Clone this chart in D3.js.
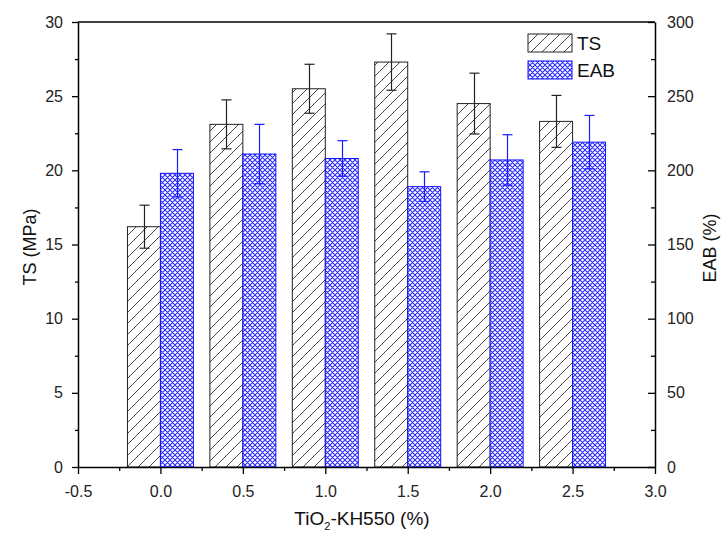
<!DOCTYPE html>
<html>
<head>
<meta charset="utf-8">
<script src="https://d3js.org/d3.v7.min.js"></script>
<style>
  body { margin: 0; background: #fff; }
  text { font-family: "Liberation Sans", Arial, sans-serif; }
</style>
</head>
<body>
<script>
var categories = [0.0, 0.5, 1.0, 1.5, 2.0, 2.5];
var tsValues  = [16.2, 23.1, 25.5, 27.3, 24.5, 23.3];
var tsErr     = [1.45, 1.65, 1.65, 1.9, 2.05, 1.75];
var eabValues = [198, 211, 208, 189, 207, 219];
var eabErr    = [16, 20, 12, 10, 17, 18];
var xTicks = [-0.5, 0.0, 0.5, 1.0, 1.5, 2.0, 2.5, 3.0];

var width = 721, height = 539;
var pLeft = 78, pRight = 655, pTop = 22, pBottom = 467;
var barW = 0.2;

var svg = d3.select("body").append("svg")
  .attr("width", width).attr("height", height);

var defs = svg.append("defs");
var hatch = defs.append("pattern").attr("id", "hatch")
  .attr("patternUnits", "userSpaceOnUse").attr("width", 11).attr("height", 11);
hatch.append("rect").attr("width", 11).attr("height", 11).attr("fill", "#fff");
hatch.append("path").attr("d", "M-1,12 L12,-1 M-6,6 L6,-6 M5,17 L17,5")
  .attr("stroke", "#333").attr("stroke-width", 0.9);

var cross = defs.append("pattern").attr("id", "cross")
  .attr("patternUnits", "userSpaceOnUse").attr("width", 5).attr("height", 5);
cross.append("rect").attr("width", 5).attr("height", 5).attr("fill", "#fff");
cross.append("path").attr("d", "M0,0 L5,5 M5,0 L0,5 M-1,4 L1,6 M4,-1 L6,1 M4,6 L6,4 M-1,1 L1,-1")
  .attr("stroke", "#2a2aff").attr("stroke-width", 1.1);

var x = d3.scaleLinear().domain([-0.5, 3.0]).range([pLeft, pRight]);
var yL = d3.scaleLinear().domain([0, 30]).range([pBottom, pTop]);
var yR = d3.scaleLinear().domain([0, 300]).range([pBottom, pTop]);

// bars
svg.selectAll(".ts").data(categories).enter().append("rect")
  .attr("x", function(d) { return x(d - barW); })
  .attr("width", function(d) { return x(d) - x(d - barW); })
  .attr("y", function(d, i) { return yL(tsValues[i]); })
  .attr("height", function(d, i) { return pBottom - yL(tsValues[i]); })
  .attr("fill", "url(#hatch)").attr("stroke", "#222").attr("stroke-width", 1);

svg.selectAll(".eab").data(categories).enter().append("rect")
  .attr("x", function(d) { return x(d); })
  .attr("width", function(d) { return x(d + barW) - x(d); })
  .attr("y", function(d, i) { return yR(eabValues[i]); })
  .attr("height", function(d, i) { return pBottom - yR(eabValues[i]); })
  .attr("fill", "url(#cross)").attr("stroke", "#1010ff").attr("stroke-width", 1);

// error bars
function errBars(vals, errs, scale, offset, color) {
  var g = svg.append("g").attr("stroke", color).attr("stroke-width", 1.2).attr("fill", "none");
  categories.forEach(function(c, i) {
    var cx = Math.round(x(c + offset)) + 0.5;
    var y1 = scale(vals[i] + errs[i]), y2 = scale(vals[i] - errs[i]);
    g.append("line").attr("x1", cx).attr("x2", cx).attr("y1", y1).attr("y2", y2);
    g.append("line").attr("x1", cx - 5).attr("x2", cx + 5).attr("y1", y1).attr("y2", y1);
    g.append("line").attr("x1", cx - 5).attr("x2", cx + 5).attr("y1", y2).attr("y2", y2);
  });
}
errBars(tsValues, tsErr, yL, -barW / 2, "#222");
errBars(eabValues, eabErr, yR, barW / 2, "#1a1aff");

// frame top
svg.append("line").attr("x1", pLeft).attr("x2", pRight).attr("y1", pTop).attr("y2", pTop)
  .attr("stroke", "#000").attr("stroke-width", 1.5);

// axes
var fs = "16px";
svg.append("g").attr("transform", "translate(0," + pBottom + ")")
  .call(d3.axisBottom(x).tickValues(xTicks).tickFormat(function(d) { return d3.format(".1f")(d).replace("\u2212", "-"); })
    .tickSize(7).tickPadding(12).tickSizeOuter(0));
svg.append("g").attr("transform", "translate(0," + pBottom + ")")
  .call(d3.axisBottom(x).tickValues(d3.range(-0.25, 3.0, 0.5)).tickFormat("").tickSize(4).tickSizeOuter(0))
  .select(".domain").remove();

svg.append("g").attr("transform", "translate(" + pLeft + ",0)")
  .call(d3.axisLeft(yL).tickValues(d3.range(0, 31, 5)).tickSize(6).tickPadding(9).tickSizeOuter(0));
svg.append("g").attr("transform", "translate(" + pLeft + ",0)")
  .call(d3.axisLeft(yL).tickValues(d3.range(2.5, 30, 5)).tickFormat("").tickSize(3).tickSizeOuter(0))
  .select(".domain").remove();

svg.append("g").attr("transform", "translate(" + pRight + ",0)")
  .call(d3.axisRight(yR).tickValues(d3.range(0, 301, 50)).tickSize(-7).tickPadding(12).tickSizeOuter(0));
svg.append("g").attr("transform", "translate(" + pRight + ",0)")
  .call(d3.axisRight(yR).tickValues(d3.range(25, 300, 50)).tickFormat("").tickSize(-4).tickSizeOuter(0))
  .select(".domain").remove();

svg.selectAll(".domain").attr("stroke-width", 1.5);
svg.selectAll(".tick line").attr("stroke-width", 1.3);
svg.selectAll(".tick text").attr("font-size", fs).attr("font-family", "Liberation Sans, Arial, sans-serif").attr("fill", "#222");

// axis titles
svg.append("text").attr("transform", "translate(36,247) rotate(-90)")
  .attr("text-anchor", "middle").attr("font-size", "18px").attr("fill", "#111").text("TS (MPa)");
svg.append("text").attr("transform", "translate(716,248) rotate(-90)")
  .attr("text-anchor", "middle").attr("font-size", "18px").attr("fill", "#111").text("EAB (%)");
var xt = svg.append("text").attr("x", 362).attr("y", 525)
  .attr("text-anchor", "middle").attr("font-size", "19px").attr("fill", "#111");
xt.append("tspan").text("TiO");
xt.append("tspan").attr("font-size", "11px").attr("dy", 5).text("2");
xt.append("tspan").attr("dy", -5).text("-KH550 (%)");

// legend
var legend = [["TS", "url(#hatch)", "#222"], ["EAB", "url(#cross)", "#1010ff"]];
legend.forEach(function(l, i) {
  var ly = 34 + i * 27;
  svg.append("rect").attr("x", 528).attr("y", ly).attr("width", 44).attr("height", 18)
    .attr("fill", l[1]).attr("stroke", l[2]).attr("stroke-width", 1);
  svg.append("text").attr("x", 577).attr("y", ly + 16).attr("font-size", "19px").attr("fill", "#111").text(l[0]);
});
</script>
</body>
</html>
